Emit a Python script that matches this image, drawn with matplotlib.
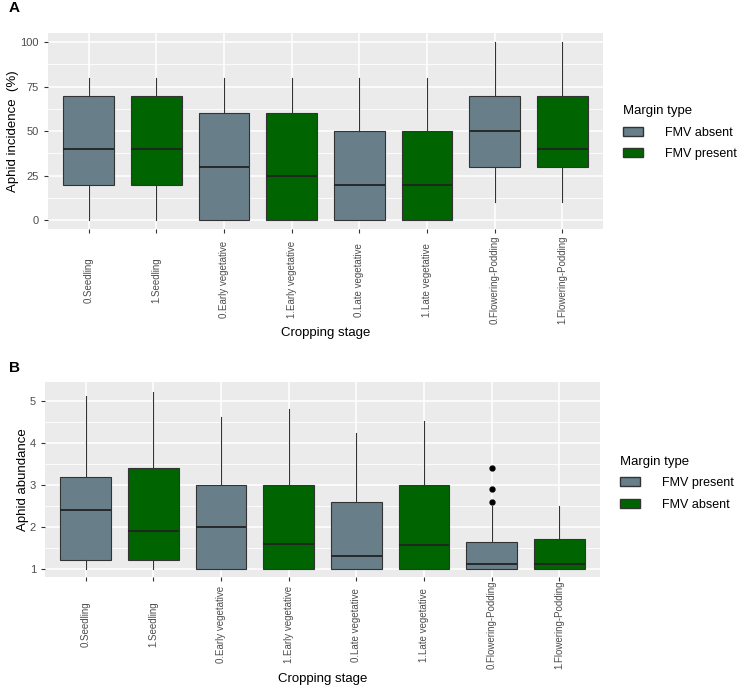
import matplotlib.pyplot as plt
from matplotlib.patches import Patch
from matplotlib.ticker import MultipleLocator

plt.rcParams['font.family'] = ['Liberation Sans', 'DejaVu Sans']

stages = ["0.Seedling", "1.Seedling", "0.Early vegetative", "1.Early vegetative",
          "0.Late vegetative", "1.Late vegetative", "0.Flowering-Podding", "1.Flowering-Podding"]

# panel A: aphid incidence (%) -> whislo, q1, med, q3, whishi
inc_lo = [0, 0, 0, 0, 0, 0, 10, 10]
inc_q1 = [20, 20, 0, 0, 0, 0, 30, 30]
inc_med = [40, 40, 30, 25, 20, 20, 50, 40]
inc_q3 = [70, 70, 60, 60, 50, 50, 70, 70]
inc_hi = [80, 80, 80, 80, 80, 80, 100, 100]

# panel B: aphid abundance
ab_lo = [1.0, 1.0, 1.0, 1.0, 1.0, 1.0, 1.0, 1.0]
ab_q1 = [1.2, 1.2, 1.0, 1.0, 1.0, 1.0, 1.0, 1.0]
ab_med = [2.4, 1.9, 2.0, 1.6, 1.3, 1.57, 1.12, 1.12]
ab_q3 = [3.2, 3.4, 3.0, 3.0, 2.6, 3.0, 1.63, 1.7]
ab_hi = [5.13, 5.22, 4.62, 4.82, 4.23, 4.53, 2.5, 2.5]
ab_out = [[], [], [], [], [], [], [2.6, 2.9, 3.4], []]

grey = "#687f8a"
green = "#006400"
cols = [grey, green] * 4


def make_stats(lo, q1, med, q3, hi, fl=None):
    out = []
    for i in range(len(lo)):
        out.append(dict(whislo=lo[i], q1=q1[i], med=med[i], q3=q3[i], whishi=hi[i],
                        fliers=(fl[i] if fl else [])))
    return out


def style_ax(ax, ylabel, pad, xlab_y, ylab_x):
    ax.set_facecolor("#ebebeb")
    for s in ax.spines.values():
        s.set_visible(False)
    ax.grid(True, which="major", color="white", lw=1.1)
    ax.grid(True, which="minor", axis="y", color="white", lw=0.6)
    ax.set_axisbelow(True)
    ax.set_xlim(0.4, 8.6)
    ax.set_xticks(range(1, 9))
    ax.set_xticklabels(stages, rotation=90, fontsize=7, color="#4d4d4d", va="center")
    ax.tick_params(axis="both", length=3, color="#333333", labelcolor="#4d4d4d")
    ax.tick_params(axis="x", pad=pad)
    ax.tick_params(axis="y", labelsize=8)
    ax.tick_params(which="minor", length=0)
    ax.set_ylabel(ylabel, fontsize=9.5)
    ax.set_xlabel("Cropping stage", fontsize=9.5)
    ax.xaxis.set_label_coords(0.5, xlab_y)
    ax.yaxis.set_label_coords(ylab_x, 0.5)


def draw(ax, stats):
    b = ax.bxp(stats, positions=range(1, 9), widths=0.75, patch_artist=True,
               showcaps=False,
               boxprops=dict(edgecolor="#333333", lw=0.8),
               whiskerprops=dict(color="#333333", lw=0.8),
               medianprops=dict(color="#222222", lw=1.3),
               flierprops=dict(marker="o", markersize=3.5, markerfacecolor="black",
                               markeredgecolor="black"))
    for p, c in zip(b["boxes"], cols):
        p.set_facecolor(c)


fig = plt.figure(figsize=(7.38, 6.94), dpi=100)

axA = fig.add_axes([0.065, 0.670, 0.752, 0.282])
draw(axA, make_stats(inc_lo, inc_q1, inc_med, inc_q3, inc_hi))
axA.set_ylim(-5, 105)
axA.yaxis.set_major_locator(MultipleLocator(25))
axA.yaxis.set_minor_locator(MultipleLocator(12.5))
style_ax(axA, "Aphid incidence  (%)", 33.5, -0.50, -0.052)
axA.legend(handles=[Patch(facecolor=grey, edgecolor="#333333", label="FMV absent"),
                    Patch(facecolor=green, edgecolor="#333333", label="FMV present")],
           title="Margin type", loc="upper left", bbox_to_anchor=(1.015, 0.69),
           frameon=False, fontsize=9, title_fontsize=9.5, handletextpad=1.8,
           alignment="left", handlelength=1.6, labelspacing=0.75)

axB = fig.add_axes([0.061, 0.169, 0.752, 0.280])
draw(axB, make_stats(ab_lo, ab_q1, ab_med, ab_q3, ab_hi, ab_out))
axB.set_ylim(0.81, 5.45)
axB.yaxis.set_major_locator(MultipleLocator(1))
axB.yaxis.set_minor_locator(MultipleLocator(0.5))
style_ax(axB, "Aphid abundance", 31.5, -0.494, -0.029)
axB.legend(handles=[Patch(facecolor=grey, edgecolor="#333333", label="FMV present"),
                    Patch(facecolor=green, edgecolor="#333333", label="FMV absent")],
           title="Margin type", loc="upper left", bbox_to_anchor=(1.015, 0.68),
           frameon=False, fontsize=9, title_fontsize=9.5, handletextpad=1.8,
           alignment="left", handlelength=1.6, labelspacing=0.75)

fig.text(0.012, 0.988, "A", fontsize=11, fontweight="bold", va="center")
fig.text(0.012, 0.470, "B", fontsize=11, fontweight="bold", va="center")

fig.savefig("out.png", dpi=100)
